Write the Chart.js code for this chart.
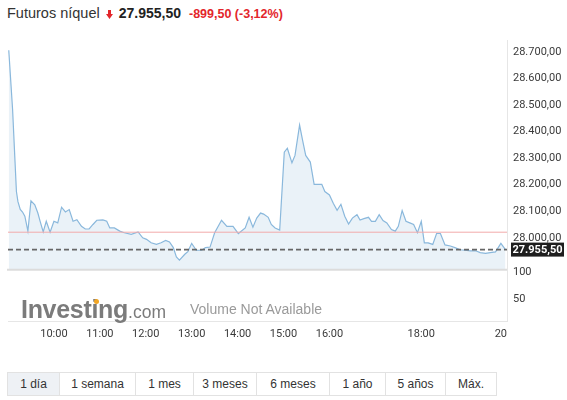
<!DOCTYPE html>
<html lang="es">
<head>
  <meta charset="UTF-8">
  <title>Futuros níquel</title>
  <script src="https://cdn.jsdelivr.net/npm/chart.js"></script>
  <style>
    body {
      margin: 0;
      width: 567px;
      height: 400px;
      position: relative;
      overflow: hidden;
      background: #fff;
      font-family: 'Liberation Sans', Arial, sans-serif;
      color: #333;
    }
    .header {
      position: absolute;
      left: 7px;
      top: 4px;
      line-height: 18px;
      white-space: nowrap;
      font-size: 14.5px;
    }
    .header svg { margin-left: 6px; vertical-align: -1px; }
    .header .last { font-weight: bold; font-size: 14px; margin-left: 6px; color: #222; }
    .header .chg { font-weight: bold; font-size: 12.5px; margin-left: 8px; color: #e3262b; }
    #wrap { position: absolute; left: 0; top: 28px; width: 567px; height: 317px; }
    .logo {
      position: absolute;
      left: 21px;
      top: 297px;
      font-size: 25px;
      line-height: 25px;
      font-weight: bold;
      letter-spacing: -0.3px;
      color: #7b7b7b;
      white-space: nowrap;
    }
    .logo .com { font-size: 17.5px; font-weight: normal; letter-spacing: 0; }
    .dot {
      position: absolute;
      left: 94px;
      top: 299px;
      width: 5px;
      height: 5px;
      border-radius: 50%;
      background: #f2a624;
    }
    .novol {
      position: absolute;
      left: 190px;
      top: 301px;
      font-size: 14px;
      line-height: 16px;
      color: #9a9a9a;
    }
    .ranges {
      position: absolute;
      left: 7px;
      top: 372px;
      height: 24px;
      display: flex;
      border: 1px solid #e2e2e2;
      box-sizing: border-box;
    }
    .ranges div {
      box-sizing: border-box;
      border-left: 1px solid #e2e2e2;
      font-size: 12px;
      line-height: 22px;
      text-align: center;
      color: #333;
    }
    .ranges div:first-child { border-left: none; background: #eef1f5; }
  </style>
</head>
<body>
  <div class="header">Futuros níquel<svg width="7" height="9" viewBox="0 0 7 9"><path d="M2 0h3v4h2L3.5 9 0 4h2z" fill="#e3262b"/></svg><span class="last" id="last"></span><span class="chg">-899,50 (-3,12%)</span></div>
  <div id="wrap"><canvas id="chart" width="567" height="317"></canvas></div>
  <div class="logo">Investing<span class="com">.com</span></div>
  <div class="dot"></div>
  <div class="novol">Volume Not Available</div>
  <div class="ranges" id="ranges"></div>

  <script>
    // intraday prices (time, price)
    const times = [
      '09:01', '09:06', '09:09', '09:11', '09:13', '09:16', '09:19', '09:22', '09:26', '09:30',
      '09:35', '09:39', '09:42', '09:46', '09:50', '09:55', '10:00', '10:05', '10:10', '10:15',
      '10:20', '10:25', '10:30', '10:36', '10:41', '10:46', '10:51', '10:56', '11:04', '11:09',
      '11:13', '11:19', '11:26', '11:32', '11:41', '11:50', '11:56', '12:01', '12:07', '12:14',
      '12:20', '12:26', '12:31', '12:36', '12:40', '12:44', '12:51', '12:55', '13:00', '13:06',
      '13:13', '13:18', '13:24', '13:30', '13:39', '13:46', '13:54', '14:01', '14:10', '14:15',
      '14:20', '14:25', '14:30', '14:34', '14:40', '14:44', '14:49', '14:55', '15:01', '15:05',
      '15:11', '15:15', '15:21', '15:25', '15:29', '15:35', '15:40', '15:45', '15:50', '15:54',
      '16:00', '16:05', '16:10', '16:15', '16:20', '16:25', '16:30', '16:36', '16:40', '16:45',
      '16:51', '16:55', '17:00', '17:05', '17:10', '17:15', '17:21', '17:26', '17:30', '17:35',
      '17:40', '17:45', '17:50', '17:55', '18:00', '18:04', '18:09', '18:15', '18:20', '18:25',
      '18:31', '18:38', '18:44', '18:51', '18:57', '19:04', '19:11', '19:17', '19:24', '19:30',
      '19:37', '19:44', '19:50'
    ];
    const prices = [
      28706, 28483, 28297, 28174, 28136, 28107, 28097, 28081, 28025, 28139,
      28124, 28093, 28062, 28022, 28062, 28021, 28062, 28056, 28115, 28097,
      28106, 28062, 28068, 28043, 28033, 28033, 28050, 28066, 28067, 28062,
      28037, 28037, 28025, 28019, 28013, 28022, 28000, 27994, 27981, 27975,
      27981, 27990, 27984, 27963, 27928, 27916, 27938, 27948, 27979, 27953,
      27953, 27963, 27965, 28019, 28066, 28043, 28043, 28016, 28037, 28077,
      28040, 28074, 28093, 28089, 28077, 28050, 28037, 28029, 28322, 28337,
      28282, 28310, 28424, 28366, 28310, 28285, 28201, 28201, 28201, 28174,
      28161, 28130, 28103, 28126, 28081, 28052, 28074, 28087, 28067, 28072,
      28077, 28062, 28062, 28087, 28065, 28056, 28031, 28025, 28043, 28102,
      28062, 28056, 28050, 28019, 28062, 27981, 27981, 27975, 28016, 28016,
      27973, 27969, 27963, 27955, 27953, 27951, 27951, 27944, 27941, 27944,
      27947, 27979, 27955.5
    ];
    const lastPrice = 27955.5;
    const refLine = 28021;          // thin red line

    const xStart = '09:00';
    const xEnd = '19:52';
    const xTickTimes = ['10:00', '11:00', '12:00', '13:00', '14:00', '15:00', '16:00', '18:00'];
    const xEndLabel = '20\u2007\u2007';   // the cut-off "20:00" label at the right edge
    const priceTicks = [28000, 28100, 28200, 28300, 28400, 28500, 28600, 28700];
    const priceRange = [27880, 28742];
    const volTicks = [50, 100];
    const volRange = [9, 105];
    const rangeButtons = ['1 día', '1 semana', '1 mes', '3 meses', '6 meses', '1 año', '5 años', 'Máx.'];
    const rangeWidths = [51, 76, 58, 63, 73, 56, 60, 51];

    const toMin = s => { const [h, m] = s.split(':').map(Number); return h * 60 + m; };
    const fmtEs = (v, dec) => {
      const p = Math.abs(v).toFixed(dec).split('.');
      p[0] = p[0].replace(/\B(?=(\d{3})+(?!\d))/g, '.');
      return (v < 0 ? '-' : '') + p.join(',');
    };

    document.getElementById('last').textContent = fmtEs(lastPrice, 2);
    const rangesEl = document.getElementById('ranges');
    rangeButtons.forEach((b, i) => {
      const d = document.createElement('div');
      d.textContent = b;
      d.style.width = rangeWidths[i] + 'px';
      rangesEl.appendChild(d);
    });

    const xMin = toMin(xStart), xMax = toMin(xEnd);

    // bottom line of the price pane and the last-price box
    const extras = {
      id: 'extras',
      afterDatasetsDraw(chart) {
        const { ctx, chartArea } = chart;
        const y = chart.scales.y;
        ctx.save();
        ctx.strokeStyle = '#dcdcdc';
        ctx.lineWidth = 2;
        ctx.beginPath();
        ctx.moveTo(chartArea.left - 1, y.bottom);
        ctx.lineTo(chartArea.right, y.bottom);
        ctx.stroke();
        ctx.restore();
      },
      afterDraw(chart) {
        const { ctx } = chart;
        const y = chart.scales.y;
        const py = y.getPixelForValue(lastPrice);
        ctx.save();
        ctx.fillStyle = '#1e1e1e';
        ctx.fillRect(y.left + 4, py - 7, 53, 14);
        ctx.fillStyle = '#fff';
        ctx.font = 'bold 11px Roboto';
        ctx.textAlign = 'center';
        ctx.textBaseline = 'middle';
        ctx.fillText(fmtEs(lastPrice, 2), y.left + 30.5, py + 0.5);
        ctx.restore();
      }
    };

    Chart.defaults.font.family = 'Roboto';
    Chart.defaults.font.size = 11;
    Chart.defaults.color = '#3a3a3a';

    new Chart(document.getElementById('chart'), {
      type: 'line',
      data: {
        datasets: [
          {
            data: [{ x: xMin, y: lastPrice }, { x: xMax, y: lastPrice }],
            borderColor: '#666',
            borderWidth: 1.8,
            borderDash: [5, 3],
            pointRadius: 0,
            order: 1
          },
          {
            data: [{ x: xMin, y: refLine }, { x: xMax, y: refLine }],
            borderColor: '#f2aaaa',
            borderWidth: 1,
            pointRadius: 0,
            order: 2
          },
          {
            data: times.map((t, i) => ({ x: toMin(t), y: prices[i] })),
            borderColor: '#8ab8dc',
            backgroundColor: 'rgba(205, 224, 238, 0.42)',
            borderWidth: 1.2,
            fill: 'start',
            pointRadius: 0,
            tension: 0,
            order: 3
          }
        ]
      },
      options: {
        responsive: false,
        animation: false,
        events: [],
        layout: { padding: { left: 8, top: 9, right: 0, bottom: 0 } },
        plugins: { legend: { display: false }, tooltip: { enabled: false } },
        scales: {
          x: {
            type: 'linear',
            min: xMin,
            max: xMax,
            afterBuildTicks: s => { s.ticks = xTickTimes.map(t => ({ value: toMin(t) })).concat({ value: xMax }); },
            afterFit: s => { s.height = 24; },
            grid: { display: true, color: 'transparent', drawTicks: false },
            border: { color: '#e6e6e6' },
            ticks: {
              autoSkip: false,
              maxRotation: 0,
              padding: 7,
              callback: (v, i) => i < xTickTimes.length ? xTickTimes[i] : xEndLabel
            }
          },
          y: {
            position: 'right',
            stack: 'panes',
            stackWeight: 232,
            min: priceRange[0],
            max: priceRange[1],
            afterBuildTicks: s => { s.ticks = priceTicks.map(v => ({ value: v })); },
            afterFit: s => { s.width = 60; },
            grid: { display: true, color: 'transparent', drawTicks: false },
            border: { color: '#e6e6e6' },
            ticks: { padding: 6, callback: v => fmtEs(v, 2) }
          },
          vol: {
            position: 'right',
            stack: 'panes',
            stackWeight: 52,
            min: volRange[0],
            max: volRange[1],
            afterBuildTicks: s => { s.ticks = volTicks.map(v => ({ value: v })); },
            afterFit: s => { s.width = 60; },
            grid: { display: true, color: 'transparent', drawTicks: false },
            border: { color: '#e6e6e6' },
            ticks: { padding: 6 }
          }
        }
      },
      plugins: [extras]
    });
  </script>
</body>
</html>
